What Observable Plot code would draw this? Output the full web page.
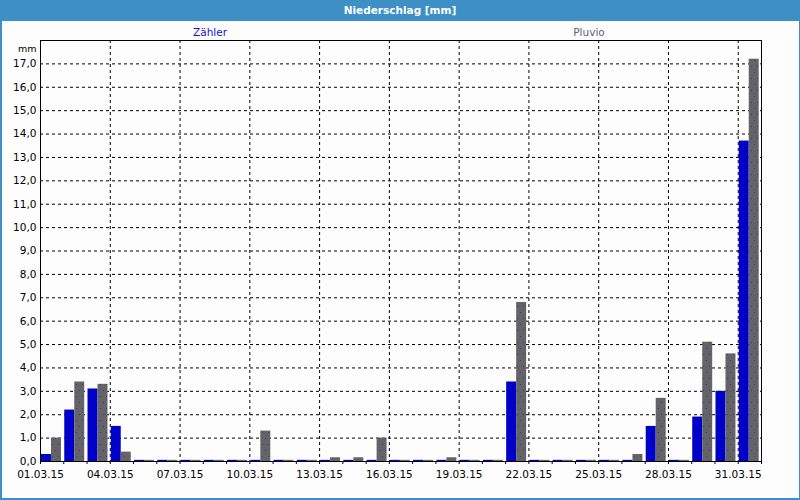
<!DOCTYPE html>
<html>
<head>
<meta charset="utf-8">
<script src="https://cdn.jsdelivr.net/npm/d3@7"></script>
<script src="https://cdn.jsdelivr.net/npm/@observablehq/plot@0.6"></script>
<style>
  html, body { margin: 0; padding: 0; background: #ffffff; }
  #frame {
    position: relative; width: 800px; height: 500px; box-sizing: border-box;
    border-left: 2px solid #3d8fc6; border-right: 1px solid #3d8fc6; border-bottom: 2px solid #3d8fc6;
    background: #fcfdfc; font-family: "DejaVu Sans", sans-serif; overflow: hidden;
  }
  #title {
    height: 21px; line-height: 21px; background: #3d8fc6; color: #ffffff;
    font-weight: bold; font-size: 10.5px; text-align: center; margin-left: -2px; margin-right: -1px;
  }
  .leg { position: absolute; top: 26px; font-size: 10.5px; transform: translateX(-50%); white-space: nowrap; }
</style>
</head>
<body>
<div id="frame">
  <div id="title">Niederschlag [mm]</div>
  <span class="leg" id="leg1" style="left:208px;color:#1414d0">Zähler</span>
  <span class="leg" id="leg2" style="left:587px;color:#5e5e86">Pluvio</span>
  <div id="chart"></div>
</div>
<script>
// Data
const dayLabels = ["01.03.15","02.03.15","03.03.15","04.03.15","05.03.15","06.03.15","07.03.15","08.03.15","09.03.15","10.03.15",
  "11.03.15","12.03.15","13.03.15","14.03.15","15.03.15","16.03.15","17.03.15","18.03.15","19.03.15","20.03.15",
  "21.03.15","22.03.15","23.03.15","24.03.15","25.03.15","26.03.15","27.03.15","28.03.15","29.03.15","30.03.15","31.03.15"];
const zaehler = [0.3,2.2,3.1,1.5,0.05,0.05,0.05,0.05,0.05,0.05,
  0.05,0.05,0.05,0.05,0.05,0.05,0.05,0.05,0.05,0.05,
  3.4,0.05,0.05,0.05,0.05,0.05,1.5,0.05,1.9,3.0,13.7];
const pluvio = [1.0,3.4,3.3,0.4,0.05,0.05,0.05,0.05,0.05,1.3,
  0.05,0.05,0.16,0.16,1.0,0.05,0.05,0.16,0.05,0.05,
  6.8,0.05,0.05,0.05,0.05,0.3,2.7,0.05,5.1,4.6,17.2];
const labelDays = ["01.03.15","04.03.15","07.03.15","10.03.15","13.03.15","16.03.15","19.03.15","22.03.15","25.03.15","28.03.15","31.03.15"];
const yTicks = [0,1,2,3,4,5,6,7,8,9,10,11,12,13,14,15,16,17];
const seriesNames = ["Zähler","Pluvio"];

const parse = d3.utcParse("%d.%m.%y");
const dates = dayLabels.map(parse);
const rowsZ = dates.map((d, i) => ({date: d, next: d3.utcDay.offset(d, 1), value: zaehler[i], series: seriesNames[0]}));
const rowsP = dates.map((d, i) => ({date: d, next: d3.utcDay.offset(d, 1), value: pluvio[i], series: seriesNames[1]}));
const start = dates[0];
const end = d3.utcDay.offset(dates[dates.length - 1], 1);
const dayBoundaries = d3.utcDay.range(start, d3.utcDay.offset(end, 1));
const labelDates = labelDays.map(parse);
const gridDates = labelDates.slice(1);
const fmtY = d => d.toFixed(1).replace(".", ",");
const fmtX = d3.utcFormat("%d.%m.%y");

const chart = Plot.plot({
  width: 797,
  height: 477,
  marginLeft: 38,
  marginRight: 38,
  marginTop: 19,
  marginBottom: 37,
  style: {fontFamily: "DejaVu Sans, sans-serif", fontSize: "10px", background: "transparent", color: "#000"},
  x: {type: "utc", domain: [start, end]},
  y: {domain: [0, 18]},
  marks: [
    Plot.gridY(yTicks.slice(1), {stroke: "#000", strokeOpacity: 1, strokeDasharray: "3,3"}),
    Plot.gridX(gridDates, {stroke: "#000", strokeOpacity: 1, strokeDasharray: "3,3"}),
    Plot.rectY(rowsZ, {x1: "date", x2: "next", y: "value", fill: "#0000c8", insetLeft: 1, insetRight: 12.3}),
    Plot.rectY(rowsP, {x1: "date", x2: "next", y: "value", fill: "url(#dots)", insetLeft: 11, insetRight: 2.3}),
    Plot.axisY(yTicks, {tickFormat: fmtY, tickSize: 0, tickPadding: 4, label: null, fontSize: 10.5}),
    Plot.axisX(dayBoundaries, {tickSize: 3, tickFormat: () => "", label: null}),
    Plot.axisX(labelDates, {tickSize: 0, tickPadding: 9, tickFormat: fmtX, label: null, fontSize: 10.5}),
    Plot.text(["mm"], {frameAnchor: "top-left", dx: -4, dy: 5, textAnchor: "end", fontSize: 9.5}),
    Plot.frame({stroke: "#000"})
  ]
});

// dotted texture for the grey bars
const ns = "http://www.w3.org/2000/svg";
const defs = document.createElementNS(ns, "defs");
defs.innerHTML = `<pattern id="dots" width="6" height="12" patternUnits="userSpaceOnUse">
  <rect width="6" height="12" fill="#646468"></rect>
  <rect x="2" y="3" width="1" height="1" fill="#3a3a80"></rect>
  <rect x="5" y="9" width="1" height="1" fill="#3a3a80"></rect>
</pattern>`;
chart.insertBefore(defs, chart.firstChild);
document.getElementById("chart").appendChild(chart);
</script>
</body>
</html>
